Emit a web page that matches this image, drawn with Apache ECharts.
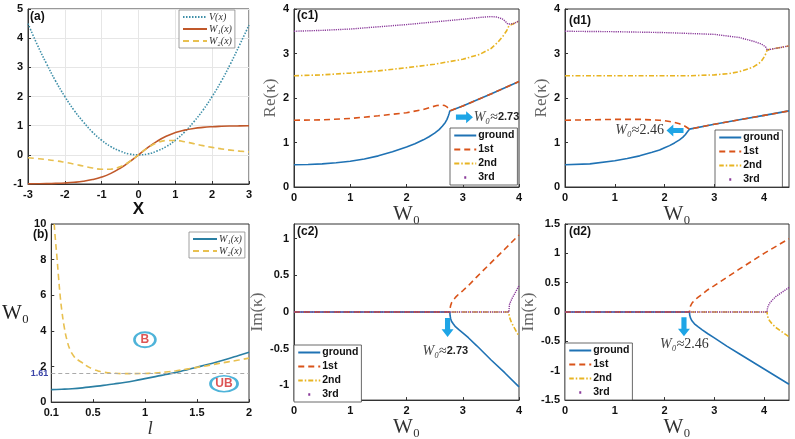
<!DOCTYPE html>
<html>
<head>
<meta charset="utf-8">
<script src="https://cdn.jsdelivr.net/npm/echarts@6/dist/echarts.min.js"></script>
<style>
html,body{margin:0;padding:0;background:#fff;}
#picture{width:795px;height:439px;}
</style>
</head>
<body>
<div id="picture"></div>
<script>
// panel (a): potentials vs x
var xa = [-3,-2.75,-2.5,-2.25,-2,-1.75,-1.5,-1.25,-1,-0.75,-0.5,-0.25,0,0.25,0.5,0.75,1,1.25,1.5,1.75,2,2.25,2.5,2.75,3];
var Va = [4.5,3.78,3.13,2.53,2,1.53,1.13,0.78,0.5,0.28,0.13,0.03,0,0.03,0.13,0.28,0.5,0.78,1.13,1.53,2,2.53,3.13,3.78,4.45];
var W1a = [-0.995,-0.992,-0.987,-0.978,-0.964,-0.941,-0.905,-0.848,-0.762,-0.635,-0.462,-0.245,0,0.245,0.462,0.635,0.762,0.848,0.905,0.941,0.964,0.978,0.987,0.992,0.995];
var W2a = [-0.099,-0.127,-0.161,-0.203,-0.256,-0.316,-0.385,-0.449,-0.494,-0.49,-0.41,-0.237,0,0.237,0.41,0.49,0.494,0.449,0.385,0.316,0.256,0.203,0.161,0.127,0.099];

// panel (b): thresholds vs l
var lb1 = [0.1,0.2,0.3,0.4,0.5,0.6,0.7,0.8,0.9,1.0,1.1,1.2,1.3,1.4,1.5,1.6,1.7,1.8,1.9,2.0];
var W1b = [0.7,0.72,0.75,0.8,0.87,0.94,1.02,1.1,1.2,1.32,1.43,1.55,1.67,1.81,1.96,2.11,2.27,2.44,2.62,2.8];
var lb2 = [0.128,0.14,0.155,0.17,0.185,0.2,0.225,0.25,0.28,0.32,0.36,0.4,0.45,0.5,0.55,0.6,0.7,0.8,0.9,1.0,1.1,1.2,1.3,1.4,1.5,1.6,1.7,1.8,1.9,2.0];
var W2b = [10,9.1,8.1,7.0,6.0,5.2,4.2,3.5,2.95,2.55,2.35,2.2,2.0,1.85,1.75,1.68,1.62,1.6,1.6,1.61,1.63,1.69,1.76,1.85,1.95,2.05,2.16,2.26,2.36,2.47];
var W0crit = 1.61;
var regions = [[1.0,3.5,'B'],[1.76,1.03,'UB']];

// panels (c1),(c2): Re and Im of kappa, [W0, value]
var c1Ground = [[0,0.5],[0.25,0.505],[0.5,0.52],[0.75,0.545],[1,0.58],[1.25,0.63],[1.5,0.7],[1.75,0.79],[2,0.9],[2.15,0.97],[2.3,1.06],[2.4,1.13],[2.5,1.21],[2.58,1.29],[2.64,1.37],[2.69,1.45],[2.72,1.52],[2.745,1.6],[2.76,1.66],[2.77,1.71],[3,1.82],[3.5,2.09],[4,2.37]];
var c1First = [[0,1.5],[0.5,1.51],[1,1.54],[1.5,1.6],[2,1.67],[2.3,1.74],[2.45,1.8],[2.54,1.83],[2.62,1.84],[2.68,1.83],[2.72,1.8],[2.75,1.76],[2.77,1.71],[3,1.82],[3.5,2.09],[4,2.37]];
var c1Second = [[0,2.5],[0.5,2.52],[1,2.56],[1.5,2.61],[2,2.68],[2.5,2.76],[3,2.87],[3.3,2.98],[3.5,3.11],[3.63,3.26],[3.72,3.4],[3.78,3.51],[3.82,3.62],[3.9,3.67],[4,3.73]];
var c1Third = [[0,3.5],[0.5,3.52],[1,3.55],[1.5,3.6],[2,3.65],[2.5,3.71],[3,3.77],[3.3,3.81],[3.5,3.83],[3.6,3.82],[3.7,3.78],[3.76,3.72],[3.8,3.66],[3.82,3.62],[3.9,3.67],[4,3.73]];
var c2Ground = [[0,0],[2.77,0],[2.775,-0.05],[2.785,-0.09],[2.8,-0.125],[2.83,-0.16],[2.87,-0.2],[2.93,-0.24],[3,-0.285],[3.1,-0.35],[3.25,-0.46],[3.5,-0.65],[3.75,-0.83],[4,-1.02]];
var c2First = [[0,0],[2.77,0],[2.775,0.05],[2.785,0.09],[2.8,0.125],[2.83,0.16],[2.87,0.2],[2.93,0.245],[3,0.29],[3.1,0.36],[3.25,0.48],[3.5,0.67],[3.75,0.86],[4,1.05]];
var c2Second = [[0,0],[3.82,0],[3.825,-0.05],[3.84,-0.09],[3.87,-0.15],[3.92,-0.22],[4,-0.33]];
var c2Third = [[0,0],[3.82,0],[3.83,0.1],[3.85,0.14],[3.88,0.19],[3.93,0.26],[4,0.36]];

// panels (d1),(d2)
var d1Ground = [[0,0.5],[0.5,0.52],[1,0.59],[1.25,0.64],[1.5,0.7],[1.75,0.78],[1.9,0.83],[2,0.88],[2.1,0.93],[2.2,0.99],[2.3,1.06],[2.37,1.12],[2.42,1.18],[2.46,1.24],[2.49,1.28],[2.5,1.3],[3,1.41],[3.5,1.51],[4,1.61],[4.5,1.71]];
var d1First = [[0,1.5],[0.5,1.51],[1,1.52],[1.5,1.52],[1.9,1.5],[2,1.49],[2.1,1.47],[2.2,1.45],[2.3,1.42],[2.37,1.39],[2.42,1.36],[2.46,1.33],[2.5,1.3],[3,1.41],[3.5,1.51],[4,1.61],[4.5,1.71]];
var d1Second = [[0,2.5],[1,2.5],[2,2.5],[2.5,2.5],[3,2.52],[3.3,2.55],[3.5,2.59],[3.7,2.66],[3.8,2.71],[3.9,2.78],[3.96,2.85],[4.01,2.94],[4.04,3.01],[4.06,3.08],[4.5,3.17]];
var d1Third = [[0,3.5],[1,3.49],[2,3.47],[3,3.43],[3.5,3.36],[3.8,3.27],[3.95,3.21],[4.03,3.15],[4.06,3.08],[4.5,3.17]];
var d2Ground = [[0,0],[2.5,0],[2.505,-0.05],[2.52,-0.1],[2.55,-0.15],[2.6,-0.2],[2.67,-0.25],[2.75,-0.3],[2.87,-0.37],[3,-0.44],[3.25,-0.58],[3.5,-0.71],[4,-0.97],[4.5,-1.23]];
var d2First = [[0,0],[2.5,0],[2.505,0.05],[2.52,0.1],[2.55,0.15],[2.6,0.2],[2.67,0.25],[2.75,0.3],[2.87,0.38],[3,0.45],[3.25,0.59],[3.5,0.73],[4,1.0],[4.5,1.25]];
var d2Second = [[0,0],[4.06,0],[4.065,-0.05],[4.08,-0.1],[4.11,-0.15],[4.16,-0.2],[4.23,-0.26],[4.33,-0.32],[4.5,-0.42]];
var d2Third = [[0,0],[4.06,0],[4.065,0.05],[4.08,0.1],[4.11,0.15],[4.16,0.2],[4.23,0.26],[4.33,0.32],[4.5,0.42]];

var levelNames = ['ground','1st','2nd','3rd'];
var legendText = {Va:'V(x)', W1a:'W\u2081(x)', W2a:'W\u2082(x)', W1b:'W\u2081(x)', W2b:'W\u2082(x)'};

var SANS = 'Liberation Sans, Arial, sans-serif';
var SERIF = 'Liberation Serif, DejaVu Serif, serif';
var cGround = '#1f72b4', cFirst = '#d95319', cSecond = '#e8b422', cThird = '#8a3a9a', cArrow = '#1ea5e6';

function zip(xs, ys) {
    return xs.map(function (x, i) { return [x, ys[i]]; });
}

function xAx(idx, min, max, extra) {
    var a = {
        type: 'value', gridIndex: idx, min: min, max: max, interval: 1,
        axisLine: {show: true, onZero: false, lineStyle: {color: '#333'}},
        axisTick: {show: true, inside: true, length: 3, lineStyle: {color: '#333'}},
        axisLabel: {color: '#111', fontFamily: SANS, fontWeight: 'bold', fontSize: 11, margin: 5, showMaxLabel: max === 4.5 ? false : null},
        splitLine: {show: false},
        name: 'W\u2080', nameLocation: 'middle', nameGap: 11,
        nameTextStyle: {fontFamily: SERIF, fontSize: 21, color: '#333', verticalAlign: 'top'}
    };
    return Object.assign(a, extra || {});
}
function yAx(idx, min, max, interval, extra) {
    var a = {
        type: 'value', gridIndex: idx, min: min, max: max, interval: interval,
        axisLine: {show: true, onZero: false, lineStyle: {color: '#333'}},
        axisTick: {show: true, inside: true, length: 3, lineStyle: {color: '#333'}},
        axisLabel: {color: '#111', fontFamily: SANS, fontWeight: 'bold', fontSize: 11, margin: 5},
        splitLine: {show: false},
        nameLocation: 'middle', nameGap: 22,
        nameTextStyle: {fontFamily: SERIF, fontSize: 17, color: '#666'}
    };
    return Object.assign(a, extra || {});
}

// draw order: 2nd underneath, 3rd dots on top
var levelZ = [3, 4, 2, 5];
function levelSeries(g, arrs, markPoint) {
    var styles = [
        {color: cGround, width: 1.6, type: 'solid'},
        {color: cFirst, width: 1.6, type: [6, 4]},
        {color: cSecond, width: 1.6, type: [5, 2, 1.5, 2]},
        {color: cThird, width: 1.4, type: [1.2, 1]}
    ];
    return arrs.map(function (d, i) {
        var s = {
            name: levelNames[i], type: 'line', xAxisIndex: g, yAxisIndex: g,
            data: d, symbol: 'none', smooth: false,
            lineStyle: styles[i], itemStyle: {color: styles[i].color}, z: levelZ[i]
        };
        if (i === 0 && markPoint) s.markPoint = markPoint;
        return s;
    });
}

var arrowRight = 'path://M0,4 L12,4 L12,0 L20,7 L12,14 L12,10 L0,10 Z';
var arrowLeft = 'path://M20,4 L8,4 L8,0 L0,7 L8,14 L8,10 L20,10 Z';
var arrowDown = 'path://M4,0 L10,0 L10,12 L14,12 L7,20 L0,12 L4,12 Z';

var annRich = {
    i: {fontFamily: SERIF, fontStyle: 'italic', fontSize: 14, color: '#444'},
    a: {fontFamily: SERIF, fontSize: 14, color: '#333'},
    b: {fontFamily: SANS, fontWeight: 'bold', fontSize: 11, color: '#222'}
};
function annText(coord, txt) {
    return {coord: coord, symbol: 'rect', symbolSize: 1, itemStyle: {color: 'rgba(0,0,0,0)'},
        label: {show: true, position: 'inside', formatter: txt, rich: annRich}};
}
function annArrow(coord, path, size) {
    return {coord: coord, symbol: path, symbolSize: size, itemStyle: {color: cArrow}, label: {show: false}};
}
function mp(list) {
    return {silent: true, animation: false, data: list};
}

var levelLegendData = [
    {name: 'ground'}, {name: '1st'}, {name: '2nd'},
    {name: '3rd', lineStyle: {type: [2, 40], dashOffset: -10, width: 2.5}}
];
function levelLegend(left, top) {
    return {
        orient: 'vertical', left: left, top: top, selectedMode: false,
        data: levelLegendData, itemWidth: 22, itemHeight: 10, itemGap: 3,
        itemStyle: {opacity: 0},
        padding: [2, 3, 2, 3], backgroundColor: '#fff', borderColor: '#444', borderWidth: 0.8,
        textStyle: {fontFamily: SANS, fontWeight: 'bold', fontSize: 10.5, color: '#111', padding: [0, 0, 0, -3]}
    };
}
function funcLegend(left, top, names) {
    return {
        orient: 'vertical', left: left, top: top, selectedMode: false,
        data: names, itemWidth: 24, itemHeight: 8, itemGap: 2,
        itemStyle: {opacity: 0},
        padding: [2, 3, 2, 3], backgroundColor: '#fff', borderColor: '#888', borderWidth: 0.8,
        formatter: function (n) { return legendText[n]; },
        textStyle: {fontFamily: SERIF, fontStyle: 'italic', fontSize: 10, color: '#333', padding: [0, 0, 0, -3]}
    };
}

var myChart = echarts.init(document.getElementById('picture'), null, {renderer: 'canvas'});

var series = [
    {name: 'Va', type: 'line', xAxisIndex: 0, yAxisIndex: 0, data: zip(xa, Va), symbol: 'none', smooth: true,
        lineStyle: {color: '#3e8fa8', width: 1.6, type: [1.5, 1.5]}, itemStyle: {color: '#3e8fa8'}},
    {name: 'W1a', type: 'line', xAxisIndex: 0, yAxisIndex: 0, data: zip(xa, W1a), symbol: 'none', smooth: true,
        lineStyle: {color: '#c0582a', width: 1.6}, itemStyle: {color: '#c0582a'}},
    {name: 'W2a', type: 'line', xAxisIndex: 0, yAxisIndex: 0, data: zip(xa, W2a), symbol: 'none', smooth: true,
        lineStyle: {color: '#e8c050', width: 1.6, type: [6, 4]}, itemStyle: {color: '#e8c050'}},
    {name: 'W1b', type: 'line', xAxisIndex: 1, yAxisIndex: 1, data: zip(lb1, W1b), symbol: 'none', smooth: true,
        lineStyle: {color: '#2a7fa3', width: 1.6}, itemStyle: {color: '#2a7fa3'}},
    {name: 'W2b', type: 'line', xAxisIndex: 1, yAxisIndex: 1, data: zip(lb2, W2b), symbol: 'none', smooth: true,
        lineStyle: {color: '#e8c050', width: 1.6, type: [6, 4]}, itemStyle: {color: '#e8c050'},
        markLine: {symbol: 'none', silent: true, animation: false,
            lineStyle: {type: [4, 3], color: '#aaa', width: 1},
            label: {position: 'start', formatter: String(W0crit), color: '#3a44a8', fontSize: 9, fontWeight: 'bold', fontFamily: SANS, distance: 3},
            data: [{yAxis: W0crit}]}},
    {name: 'regions', type: 'scatter', xAxisIndex: 1, yAxisIndex: 1,
        data: regions.map(function (r) { return {value: [r[0], r[1]], name: r[2], symbolSize: r[2] === 'B' ? [21, 15] : [27, 16]}; }),
        itemStyle: {color: '#fff', borderColor: '#22a0d0', borderWidth: 2.2},
        label: {show: true, position: 'inside', formatter: '{b}', color: '#d42a2a', fontWeight: 'bold', fontSize: 12, fontFamily: SANS},
        z: 5}
];

series = series.concat(levelSeries(2, [c1Ground, c1First, c1Second, c1Third], mp([
    annArrow([3.03, 1.57], arrowRight, [17, 12]),
    annText([3.6, 1.57], '{i|W\u2080}{a|\u2248}{b|2.73}')
])));
series = series.concat(levelSeries(3, [d1Ground, d1First, d1Second, d1Third], mp([
    annArrow([2.21, 1.27], arrowLeft, [17, 12]),
    annText([1.5, 1.27], '{i|W\u2080}{a|\u22482.46}')
])));
series = series.concat(levelSeries(4, [c2Ground, c2First, c2Second, c2Third], mp([
    annArrow([2.73, -0.21], arrowDown, [12, 19]),
    annText([2.69, -0.53], '{i|W\u2080}{a|\u2248}{b|2.73}')
])));
series = series.concat(levelSeries(5, [d2Ground, d2First, d2Second, d2Third], mp([
    annArrow([2.39, -0.25], arrowDown, [12, 19]),
    annText([2.4, -0.55], '{i|W\u2080}{a|\u22482.46}')
])));

var gridStyle = {show: true, borderColor: '#333', borderWidth: 1, backgroundColor: 'transparent'};
var option = {
    animation: false,
    backgroundColor: '#fff',
    grid: [
        Object.assign({left: 28, top: 9, width: 221, height: 175}, gridStyle),
        Object.assign({left: 25, top: 224, width: 224, height: 179}, gridStyle),
        Object.assign({left: 294, top: 9, width: 225, height: 178}, gridStyle),
        Object.assign({left: 565, top: 9, width: 224, height: 178}, gridStyle),
        Object.assign({left: 294, top: 224, width: 225, height: 177}, gridStyle),
        Object.assign({left: 565, top: 224, width: 224, height: 177}, gridStyle)
    ],
    xAxis: [
        xAx(0, -3, 3, {name: 'X', nameGap: 15, splitLine: {show: true, lineStyle: {color: '#e6e6e6'}},
            nameTextStyle: {fontFamily: SANS, fontWeight: 'bold', fontSize: 17, color: '#111', verticalAlign: 'top'}}),
        xAx(1, 0.1, 2, {interval: null, name: 'l', nameGap: 13,
            axisLabel: {color: '#111', fontFamily: SANS, fontWeight: 'bold', fontSize: 11, margin: 5, customValues: [0.1, 0.5, 1, 1.5, 2]},
            axisTick: {show: true, inside: true, length: 3, lineStyle: {color: '#333'}, customValues: [0.1, 0.5, 1, 1.5, 2]},
            nameTextStyle: {fontFamily: SERIF, fontStyle: 'italic', fontSize: 19, color: '#333', verticalAlign: 'top'}}),
        xAx(2, 0, 4),
        xAx(3, 0, 4.5),
        xAx(4, 0, 4),
        xAx(5, 0, 4.5)
    ],
    yAxis: [
        yAx(0, -1, 5, 1, {splitLine: {show: true, lineStyle: {color: '#e6e6e6'}}}),
        yAx(1, 0, 10, 2, {name: 'W\u2080', nameRotate: 0, nameGap: 2,
            nameTextStyle: {fontFamily: SERIF, fontSize: 21, color: '#222', align: 'right'}}),
        yAx(2, 0, 4, 1, {name: 'Re(\u03ba)', nameGap: 12}),
        yAx(3, 0, 4, 1, {name: 'Re(\u03ba)', nameGap: 12}),
        yAx(4, -1.2, 1.2, null, {name: 'Im(\u03ba)', nameGap: 21,
            axisLabel: {color: '#111', fontFamily: SANS, fontWeight: 'bold', fontSize: 11, margin: 5, customValues: [-1, -0.5, 0, 0.5, 1]},
            axisTick: {show: true, inside: true, length: 3, lineStyle: {color: '#333'}, customValues: [-1, -0.5, 0, 0.5, 1]}}),
        yAx(5, -1.5, 1.5, 0.5, {name: 'Im(\u03ba)', nameGap: 21})
    ],
    legend: [
        funcLegend(179, 10, ['Va', 'W1a', 'W2a']),
        funcLegend(189, 232, ['W1b', 'W2b']),
        levelLegend(450, 128),
        levelLegend(715, 130),
        levelLegend(294, 345),
        levelLegend(565, 343)
    ],
    graphic: [
        {type: 'text', left: 30, top: 11, style: {text: '(a)', font: 'bold 12px ' + SANS, fill: '#111'}},
        {type: 'text', left: 33, top: 229, style: {text: '(b)', font: 'bold 12px ' + SANS, fill: '#111'}},
        {type: 'text', left: 297, top: 10, style: {text: '(c1)', font: 'bold 12px ' + SANS, fill: '#111'}},
        {type: 'text', left: 569, top: 15, style: {text: '(d1)', font: 'bold 12px ' + SANS, fill: '#111'}},
        {type: 'text', left: 297, top: 226, style: {text: '(c2)', font: 'bold 12px ' + SANS, fill: '#111'}},
        {type: 'text', left: 569, top: 226, style: {text: '(d2)', font: 'bold 12px ' + SANS, fill: '#111'}}
    ],
    series: series
};
myChart.setOption(option);
</script>
</body>
</html>
